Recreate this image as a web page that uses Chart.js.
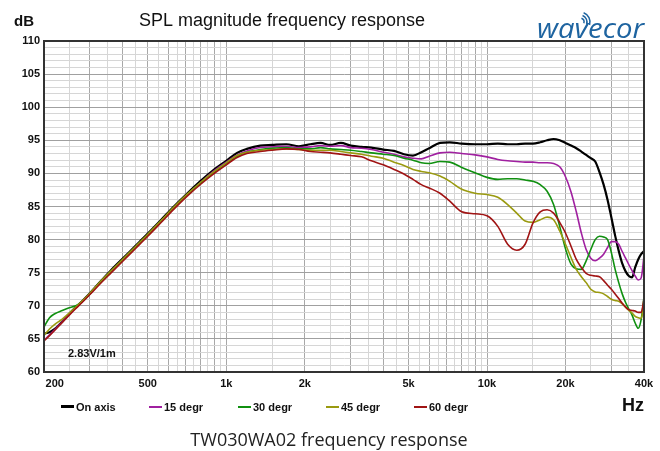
<!DOCTYPE html>
<html>
<head>
<meta charset="utf-8">
<script src="https://cdn.jsdelivr.net/npm/chart.js@4.4.1/dist/chart.umd.min.js"></script>
<style>
  html, body { margin: 0; padding: 0; background: #fff; }
  #wrap { width: 660px; height: 451px; }
</style>
</head>
<body>
<div id="wrap"><canvas id="splChart" width="660" height="451"></canvas></div>
<script>
// frequencies (Hz) shared by all curves
const freqs = [200, 210, 220, 235, 250, 265, 280, 300, 330, 360,
  400, 450, 500, 560, 630, 710, 800, 900, 1000, 1100,
  1200, 1350, 1500, 1700, 1900, 2100, 2300, 2500, 2750, 3000,
  3300, 3600, 4000, 4400, 4800, 5200, 5600, 6000, 6600, 7200,
  8000, 9000, 10000, 11000, 12000, 13000, 14000, 15000, 16000, 17000,
  18000, 19000, 20000, 21000, 22000, 23000, 24000, 25000, 26000, 27000,
  28000, 29000, 30000, 31000, 32000, 33000, 34000, 35000, 36000, 37000,
  38000, 39000, 40000];

// SPL in dB
const onAxis = [65.8, 66.0, 66.5, 67.6, 68.8, 69.8, 70.7, 71.9, 73.7, 75.3,
  77.1, 79.1, 80.9, 82.9, 85.0, 87.0, 88.9, 90.6, 91.9, 93.1,
  93.7, 94.2, 94.3, 94.4, 94.1, 94.4, 94.6, 94.3, 94.6, 94.2,
  94.0, 93.9, 93.6, 93.4, 92.9, 92.7, 93.2, 93.8, 94.6, 94.7,
  94.5, 94.4, 94.4, 94.5, 94.4, 94.4, 94.5, 94.5, 94.7, 95.0,
  95.2, 95.0, 94.6, 94.2, 93.8, 93.3, 92.8, 92.3, 91.8, 90.2,
  88.3, 86.0, 83.3, 80.6, 78.3, 76.4, 75.2, 74.5, 74.3, 75.8,
  77.0, 77.8, 78.3];
const deg15 = [64.8, 65.6, 66.4, 67.6, 68.7, 69.7, 70.6, 71.8, 73.6, 75.1,
  76.9, 78.9, 80.7, 82.7, 84.8, 86.8, 88.7, 90.4, 91.7, 92.8,
  93.4, 93.9, 94.0, 94.1, 93.9, 94.0, 94.2, 94.1, 94.2, 93.9,
  93.8, 93.6, 93.2, 92.9, 92.5, 92.3, 92.2, 92.6, 93.1, 93.2,
  93.0, 92.8, 92.5, 92.1, 91.9, 91.8, 91.7, 91.7, 91.6, 91.6,
  91.5, 91.0, 89.5, 87.2, 84.2, 81.0, 78.5, 77.2, 76.8, 77.2,
  77.8, 78.8, 79.7, 79.7, 79.3, 78.2, 77.2, 76.2, 75.3, 74.5,
  73.9, 74.2, 77.5];
const deg30 = [66.8, 68.2, 68.8, 69.3, 69.7, 70.0, 70.6, 71.8, 73.6, 75.1,
  76.9, 78.9, 80.7, 82.7, 84.8, 86.8, 88.6, 90.2, 91.5, 92.6,
  93.2, 93.6, 93.8, 93.9, 93.7, 93.7, 93.9, 93.7, 93.6, 93.5,
  93.3, 93.1, 92.9, 92.7, 92.3, 92.0, 91.6, 91.5, 91.8, 91.7,
  90.9, 90.1, 89.4, 89.1, 89.2, 89.2, 89.0, 88.8, 88.3, 87.3,
  85.3, 82.0, 78.6, 76.3, 75.6, 75.5, 76.8, 78.5, 80.0, 80.5,
  80.4, 80.0, 78.0, 75.5, 73.5, 71.8, 70.5, 69.5, 68.6, 67.4,
  66.6, 67.9, 71.3];
const deg45 = [65.5, 66.5, 67.2, 68.0, 68.9, 69.8, 70.7, 71.9, 73.7, 75.2,
  77.0, 79.0, 80.8, 82.8, 84.9, 86.9, 88.7, 90.3, 91.6, 92.7,
  93.2, 93.5, 93.6, 93.7, 93.6, 93.5, 93.5, 93.5, 93.3, 93.1,
  92.9, 92.6, 92.3, 91.7, 91.2, 90.6, 90.3, 90.1, 89.6, 88.8,
  87.6, 87.0, 86.8, 86.4, 85.3, 84.0, 82.8, 82.6, 83.0, 83.4,
  83.0, 81.3, 79.3, 77.3, 75.5, 74.4, 73.5, 72.5, 72.1, 72.0,
  71.8, 71.4, 71.0, 70.8, 70.7, 70.3, 69.8, 69.3, 68.9, 68.4,
  68.2, 68.1, 70.0];
const deg60 = [64.7, 65.5, 66.3, 67.5, 68.6, 69.6, 70.5, 71.7, 73.4, 74.9,
  76.7, 78.7, 80.5, 82.5, 84.6, 86.6, 88.4, 90.0, 91.3, 92.4,
  93.0, 93.3, 93.5, 93.7, 93.6, 93.3, 93.2, 93.1, 92.9, 92.7,
  92.5, 91.9, 91.3, 90.6, 89.9, 89.1, 88.3, 87.8, 87.0, 85.8,
  84.2, 83.9, 83.6, 82.0, 79.3, 78.4, 79.3, 82.5, 84.2, 84.5,
  84.0, 82.6, 81.0, 79.0, 77.0, 75.8, 74.9, 74.6, 74.5, 74.4,
  73.8, 73.1, 72.5, 71.8, 71.1, 70.4, 69.8, 69.4, 69.3, 69.2,
  69.0, 69.0, 71.0];

const seriesNames = ['On axis', '15 degr', '30 degr', '45 degr', '60 degr'];
const seriesColors = ['#000000', '#a020a0', '#109010', '#9a9a10', '#a01414'];
const seriesValues = [onAxis, deg15, deg30, deg45, deg60];

// axis labels
const xLabelValues = [200, 500, 1000, 2000, 5000, 10000, 20000, 40000];
const xLabelTexts = ['       200', '500', '1k', '2k', '5k', '10k', '20k', '40k'];

// grid: 50 Hz steps to 1k, 500 Hz steps to 10k, 5k steps to 40k
const xGrid = [];
for (let f = 200; f < 1000; f += 50) xGrid.push(f);
for (let f = 1000; f < 10000; f += 500) xGrid.push(f);
for (let f = 10000; f <= 40000; f += 5000) xGrid.push(f);
const yGrid = [];
for (let v = 60; v <= 110; v++) yGrid.push(v);

const isMajorFreq = (v) => {
  const m = v / Math.pow(10, Math.floor(Math.log10(v) + 1e-9));
  return Math.abs(m - Math.round(m)) < 1e-6;
};

const FONT = "'Liberation Sans', Arial, sans-serif";

const decor = {
  id: 'decor',
  afterDraw(chart) {
    const { ctx, chartArea: a } = chart;
    ctx.save();
    ctx.strokeStyle = '#333';
    ctx.lineWidth = 2;
    ctx.strokeRect(a.left, a.top, a.right - a.left, a.bottom - a.top);

    ctx.fillStyle = '#111';
    ctx.textBaseline = 'alphabetic';
    ctx.font = 'bold 15px ' + FONT;
    ctx.textAlign = 'left';
    ctx.fillText('dB', 14, 26);

    ctx.font = '18px ' + FONT;
    ctx.textAlign = 'center';
    ctx.fillText('SPL magnitude frequency response', 282, 26);

    ctx.font = 'bold 11px ' + FONT;
    ctx.textAlign = 'left';
    ctx.fillText('2.83V/1m', 68, 357);

    // legend
    const starts = [61, 149, 238, 326, 414];
    seriesNames.forEach((name, i) => {
      ctx.fillStyle = seriesColors[i];
      ctx.fillRect(starts[i], i === 0 ? 405 : 406, 13, i === 0 ? 3 : 2);
      ctx.fillStyle = '#111';
      ctx.fillText(name, starts[i] + 15, 411);
    });

    ctx.font = 'bold 18px ' + FONT;
    ctx.textAlign = 'right';
    ctx.fillText('Hz', 644, 411);

    ctx.font = "18px 'Open Sans', sans-serif";
    ctx.textAlign = 'center';
    ctx.fillStyle = '#222';
    ctx.fillText('TW030WA02 frequency response', 329, 446);

    // logo
    ctx.fillStyle = '#1e64a0';
    ctx.font = "italic 28px 'Open Sans', sans-serif";
    ctx.textAlign = 'left';
    const w = ctx.measureText('wavecor').width;
    ctx.save();
    ctx.translate(537, 38);
    ctx.scale(107 / w, 1);
    ctx.fillText('wavecor', 0, 0);
    ctx.restore();
    ctx.strokeStyle = '#1e64a0';
    ctx.lineWidth = 1.5;
    [4, 7, 10].forEach((r) => {
      ctx.beginPath();
      ctx.arc(580, 22, r, -1.2, 0.3);
      ctx.stroke();
    });
    ctx.restore();
  }
};

const datasets = seriesValues.map((vals, i) => ({
  label: seriesNames[i],
  data: freqs.map((f, k) => ({ x: f, y: vals[k] })),
  borderColor: seriesColors[i],
  borderWidth: i === 0 ? 2.2 : 1.6,
  pointRadius: 0,
  cubicInterpolationMode: 'monotone',
  fill: false,
  order: 4 - i
}));

new Chart(document.getElementById('splChart'), {
  type: 'line',
  data: { datasets },
  options: {
    responsive: false,
    animation: false,
    layout: { padding: { top: 41, left: 0, right: 16, bottom: 59 } },
    plugins: { legend: { display: false }, tooltip: { enabled: false } },
    scales: {
      x: {
        type: 'logarithmic',
        min: 200,
        max: 40000,
        afterBuildTicks: (s) => { s.ticks = xGrid.map((v) => ({ value: v })); },
        afterFit: (s) => { s.height = 20; },
        grid: {
          drawTicks: false,
          color: (c) => (c.tick && isMajorFreq(c.tick.value) ? '#a8a8a8' : '#d6d6d6')
        },
        border: { color: '#333', width: 2 },
        ticks: {
          autoSkip: false,
          maxRotation: 0,
          padding: 5,
          color: '#111',
          font: { family: FONT, size: 11, weight: 'bold' },
          callback: (v) => {
            const k = xLabelValues.indexOf(v);
            return k >= 0 ? xLabelTexts[k] : '';
          }
        }
      },
      y: {
        min: 60,
        max: 110,
        afterBuildTicks: (s) => { s.ticks = yGrid.map((v) => ({ value: v })); },
        afterFit: (s) => { s.width = 44; },
        grid: {
          drawTicks: false,
          color: (c) => (c.tick && c.tick.value % 5 === 0 ? '#a0a0a0' : '#d6d6d6')
        },
        border: { color: '#333', width: 2 },
        ticks: {
          autoSkip: false,
          padding: 4,
          color: '#111',
          font: { family: FONT, size: 11, weight: 'bold' },
          callback: (v) => (v % 5 === 0 ? String(v) : '')
        }
      }
    }
  },
  plugins: [decor]
});
</script>
</body>
</html>
